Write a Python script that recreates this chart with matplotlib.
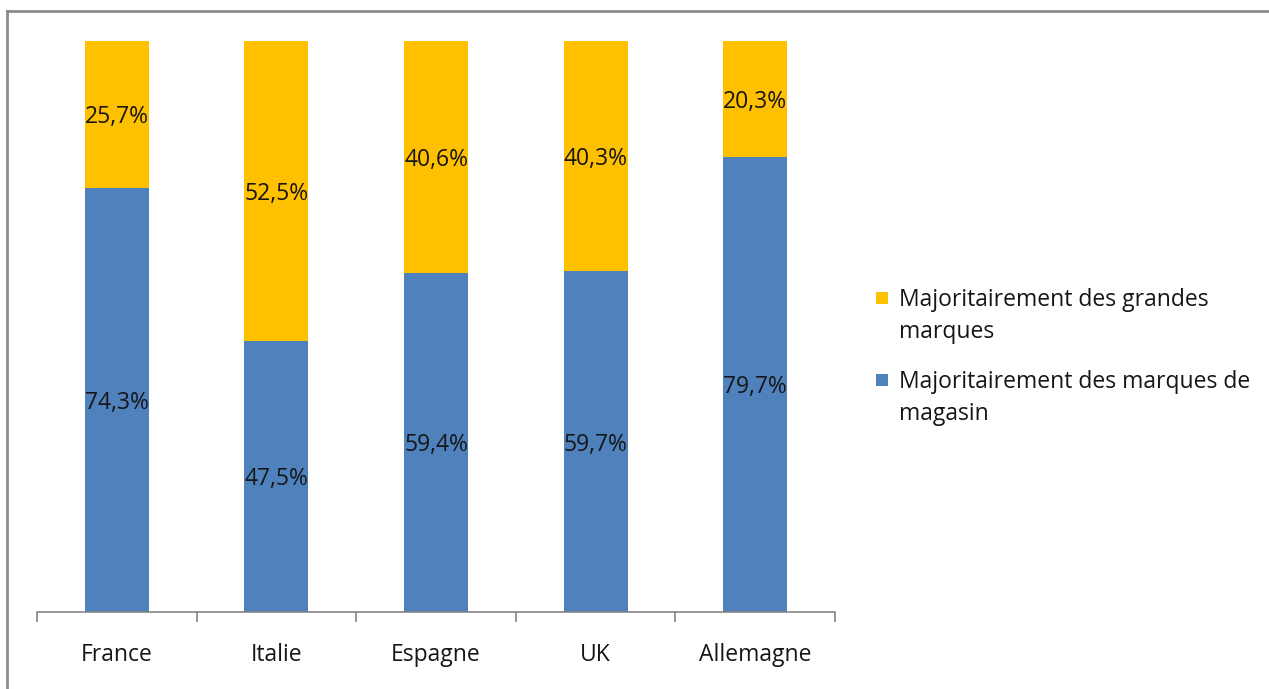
import matplotlib
matplotlib.use("Agg")
import matplotlib.pyplot as plt
from matplotlib.patches import Rectangle
from matplotlib.lines import Line2D

# Part des achats par pays
countries = ["France", "Italie", "Espagne", "UK", "Allemagne"]
store_brands = [74.3, 47.5, 59.4, 59.7, 79.7]   # marques de magasin
big_brands = [25.7, 52.5, 40.6, 40.3, 20.3]     # grandes marques
label_store = "Majoritairement des marques de\nmagasin"
label_big = "Majoritairement des grandes\nmarques"

BLUE = "#4F81BD"
YELLOW = "#FFC000"
AXIS_GREY = "#868686"
TEXT = "#161616"
FS = 16.5

plt.rcParams["font.family"] = ["Open Sans", "DejaVu Sans"]

W, H = 1269, 689
fig = plt.figure(figsize=(W / 100, H / 100), dpi=100)
fig.patch.set_facecolor("white")

# outer chart-area border (top and left edges visible)
fig.add_artist(Line2D([7 / W, 1.01], [1 - 11 / H, 1 - 11 / H], color="#8C8C8C",
                      lw=2, transform=fig.transFigure))
fig.add_artist(Line2D([7 / W, 7 / W], [1 - 11 / H, -0.01], color="#8C8C8C",
                      lw=2, transform=fig.transFigure))

ax = fig.add_axes([37 / W, 1 - 612 / H, (835 - 37) / W, (612 - 41) / H])
x = list(range(len(countries)))
ax.bar(x, store_brands, width=0.4, color=BLUE, label=label_store)
ax.bar(x, big_brands, width=0.4, bottom=store_brands, color=YELLOW, label=label_big)

for i in x:
    s, b = store_brands[i], big_brands[i]
    ax.text(i, s / 2, f"{s:.1f}%".replace(".", ","), ha="center",
            va="center_baseline", fontsize=FS, color=TEXT)
    ax.text(i, s + b / 2, f"{b:.1f}%".replace(".", ","), ha="center",
            va="center_baseline", fontsize=FS, color=TEXT)

ax.set_xlim(-0.5, len(countries) - 0.5)
ax.set_ylim(0, 100)
for side in ("top", "right", "left"):
    ax.spines[side].set_visible(False)
ax.spines["bottom"].set_color(AXIS_GREY)
ax.spines["bottom"].set_linewidth(1.2)
ax.set_yticks([])

# category boundaries as ticks
ax.set_xticks([i - 0.5 for i in range(len(countries) + 1)])
ax.set_xticklabels([])
ax.tick_params(axis="x", direction="out", length=7, color=AXIS_GREY, width=1.2)
ax.set_xticks(x, minor=True)
ax.set_xticklabels(countries, minor=True, fontsize=FS, color=TEXT)
ax.tick_params(axis="x", which="minor", length=0, pad=22)

# legend: square aligned with the first line of each label
entries = [(YELLOW, label_big, 298), (BLUE, label_store, 380)]
for color, text, yc in entries:
    fig.add_artist(Rectangle((876 / W, 1 - (yc + 6) / H), 12 / W, 12 / H,
                             facecolor=color, edgecolor="none",
                             transform=fig.transFigure))
    fig.text(899 / W, 1 - (yc - 10) / H, text, ha="left", va="top",
             fontsize=FS, color=TEXT, linespacing=1.45)

fig.savefig("out.png", dpi=100, facecolor="white")
